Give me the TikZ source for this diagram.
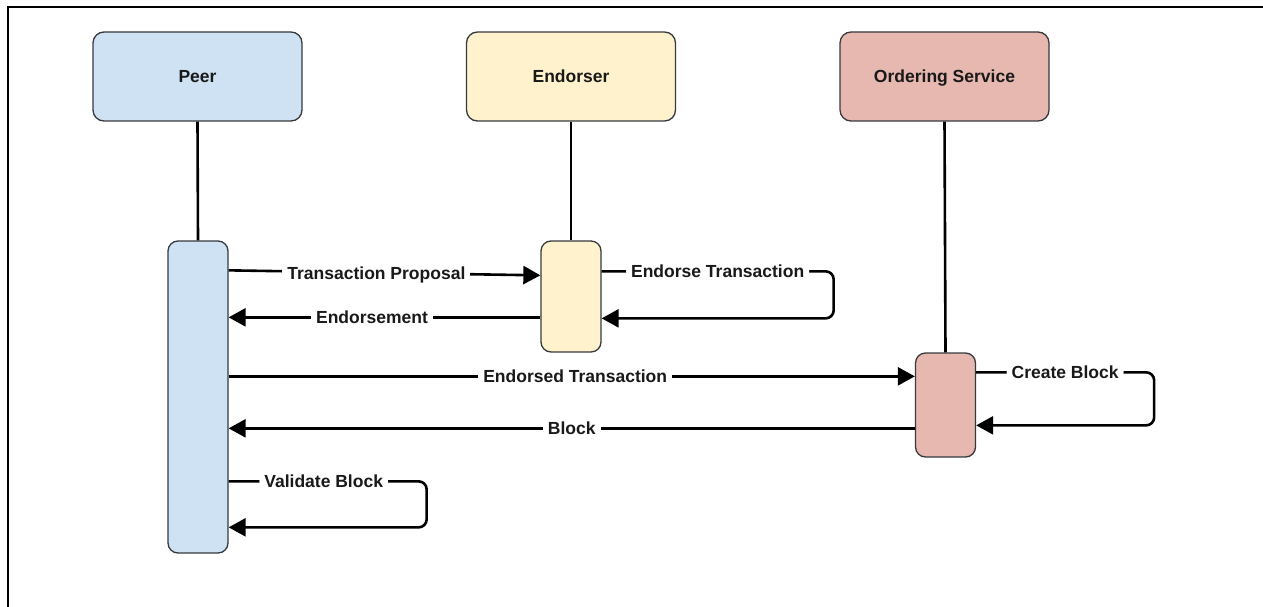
\documentclass[tikz,border=0pt]{standalone}
\usepackage{fontspec}
\setmainfont{Liberation Sans}
\usetikzlibrary{arrows.meta,calc}
\definecolor{peerfill}{RGB}{207,226,243}
\definecolor{endfill}{RGB}{255,242,204}
\definecolor{ordfill}{RGB}{230,184,175}
\definecolor{edge}{RGB}{54,57,61}
\begin{document}
\begin{tikzpicture}[x=1pt,y=-1pt,
  every node/.style={font=\fontsize{17.5}{20}\selectfont\bfseries, text=black!90},
  actor/.style={draw=edge, line width=1.3pt, rounded corners=11pt,
    minimum width=209pt, minimum height=89pt, inner sep=0pt,
    text height=12.6pt, text depth=0pt},
  activation/.style={draw=edge, line width=1.3pt, rounded corners=10pt,
    minimum width=60pt, inner sep=0pt},
  lifeline/.style={line width=2.6pt, black},
  msg/.style={line width=2.6pt, black, -{Triangle[length=17pt,width=18pt]}},
  lbl/.style={fill=white, inner xsep=5pt, inner ysep=2pt,
    text height=12.6pt, text depth=0pt}]
  \useasboundingbox (0,0) rectangle (1263,607);
  % outer frame (top and left edges)
  \draw[line width=1.6pt] (8,607) -- (8,7) -- (1263,7);

  % participants
  \node[actor, fill=peerfill] (peer) at (197.5,76.5) {Peer};
  \node[actor, fill=endfill] (endorser) at (571,76.5) {Endorser};
  \node[actor, fill=ordfill] (ordering) at (944.5,76.5) {Ordering Service};

  % activation bars
  \node[activation, fill=peerfill, minimum height=312pt] (peerAct) at (198,397) {};
  \node[activation, fill=endfill, minimum height=111pt] (endAct) at (571,296.5) {};
  \node[activation, fill=ordfill, minimum height=104pt] (ordAct) at (945.5,405) {};

  % lifelines
  \draw[lifeline] (peer.south) -- (peerAct.north);
  \draw[lifeline] (endorser.south) -- (endAct.north);
  \draw[lifeline] (ordering.south) -- (ordAct.north);

  % messages
  \draw[msg] ($(peerAct.north east)+(0,30)$) -- ($(endAct.north west)+(0,35)$)
    node[lbl, pos=0.474] {Transaction Proposal};
  \draw[msg] ($(endAct.north west)+(0,77)$) -- ($(peerAct.north east)+(0,77)$)
    node[lbl, pos=0.54] {Endorsement};
  \draw[msg, rounded corners=8pt] ($(endAct.north east)+(0,31)$) -- ++(232,0)
    node[lbl, midway] {Endorse Transaction} -- ++(0,47) -- ($(endAct.north east)+(0,78)$);
  \draw[msg] ($(peerAct.north east)+(0,136)$) -- ($(ordAct.north west)+(0,24)$)
    node[lbl, pos=0.505] {Endorsed Transaction};
  \draw[msg] ($(ordAct.north west)+(0,76)$) -- ($(peerAct.north east)+(0,188)$)
    node[lbl, pos=0.5] {Block};
  \draw[msg, rounded corners=8pt] ($(ordAct.north east)+(0,20)$) -- ++(178,0)
    node[lbl, midway] {Create Block} -- ++(0,53) -- ($(ordAct.north east)+(0,73)$);
  \draw[msg, rounded corners=8pt] ($(peerAct.north east)+(0,241)$) -- ++(198,0)
    node[lbl, pos=0.48] {Validate Block} -- ++(0,46) -- ($(peerAct.north east)+(0,287)$);
\end{tikzpicture}
\end{document}
